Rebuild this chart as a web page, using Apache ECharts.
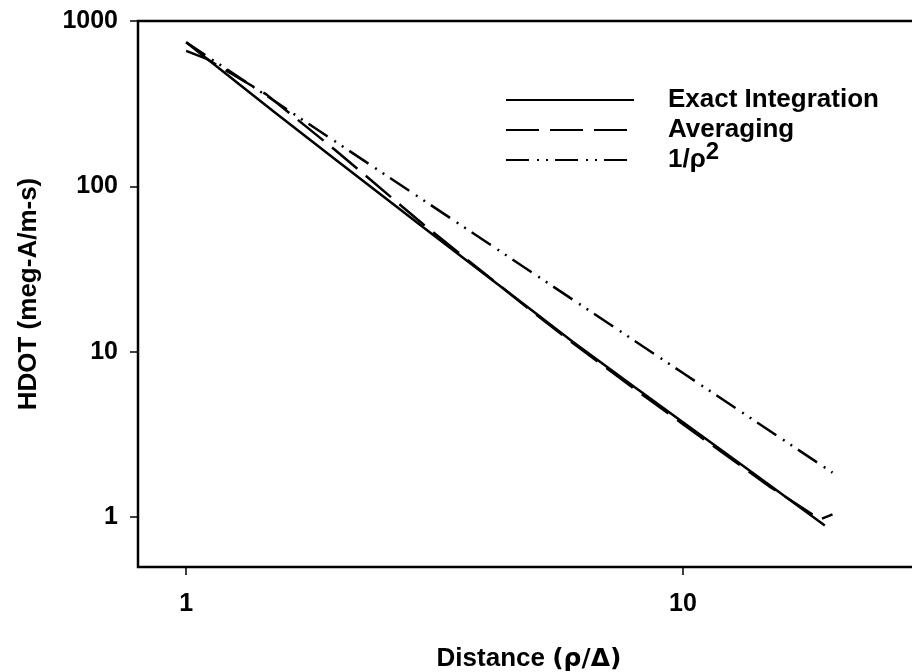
<!DOCTYPE html>
<html>
<head>
<meta charset="utf-8">
<script src="https://cdn.jsdelivr.net/npm/echarts@6/dist/echarts.min.js"></script>
<style>
  html, body { margin: 0; padding: 0; background: #fff; }
  #myChart { width: 912px; height: 672px; }
</style>
</head>
<body>
<div id="myChart"></div>
<script>
// values
const exactX = [1, 1.5, 2, 3, 4, 5, 6, 8, 10, 12, 15, 19.3];
const exactY = [745, 284, 145, 56.7, 29.2, 17.5, 11.5, 6.1, 3.75, 2.52, 1.55, 0.89];
const avgX = [1, 1.1, 1.45, 2, 3, 4, 5, 6, 8, 10, 12, 15, 18.9, 20];
const avgY = [660, 590, 360, 165, 59, 29.5, 17.3, 11.3, 5.95, 3.65, 2.46, 1.52, 0.97, 1.04];
const rhoX = [1, 2, 5, 10, 20];
const rhoY = [744, 186, 29.8, 7.44, 1.86];
const xTicks = [1, 10];
const yTicks = [1, 10, 100, 1000];
const seriesNames = ['Exact Integration', 'Averaging', '1/ρ2'];

function pairs(xs, ys) {
  return xs.map(function (x, i) { return [x, ys[i]]; });
}

const font = 'Liberation Sans, Arial, sans-serif';

let myChart = echarts.init(document.getElementById('myChart'));
myChart.setOption({
  backgroundColor: '#fff',
  animation: false,
  grid: {
    left: 138,
    top: 21,
    right: -8,
    bottom: 105,
    containLabel: false,
    outerBoundsMode: 'none',
    show: true,
    borderColor: '#000',
    borderWidth: 2.5
  },
  legend: {
    orient: 'vertical',
    left: 505,
    top: 80,
    padding: 0,
    itemWidth: 128,
    itemHeight: 14,
    itemGap: -10,
    data: seriesNames,
    itemStyle: { opacity: 0 },
    // same raised token in every item so the rows stay evenly spaced
    formatter: function (name) {
      return name === '1/ρ2' ? '1/ρ{sup|2}' : name + '{sup| }';
    },
    textStyle: {
      color: '#000',
      fontFamily: font,
      fontWeight: 'bold',
      fontSize: 26,
      lineHeight: 30,
      padding: [0, 0, 0, 29],
      rich: {
        sup: {
          fontFamily: font,
          fontWeight: 'bold',
          fontSize: 24,
          lineHeight: 30,
          padding: [0, 0, 16, 0]
        }
      }
    }
  },
  xAxis: {
    type: 'log',
    logBase: 10,
    min: 0.8,
    max: 30,
    name: 'Distance {g|(ρ/Δ)}',
    nameLocation: 'middle',
    nameGap: 79,
    nameTextStyle: {
      color: '#000', fontFamily: font, fontWeight: 'bold', fontSize: 26,
      rich: {
        g: { fontFamily: 'DejaVu Sans', fontWeight: 'bold', fontSize: 25, color: '#000' }
      }
    },
    axisLine: { show: false },
    axisTick: { show: true, length: 8, customValues: xTicks, lineStyle: { color: '#000', width: 1.5 } },
    axisLabel: { customValues: xTicks, margin: 25, color: '#000', fontFamily: font, fontWeight: 'bold', fontSize: 25 },
    splitLine: { show: false },
    minorTick: { show: false }
  },
  yAxis: {
    type: 'log',
    logBase: 10,
    min: 0.5,
    max: 1000,
    name: 'HDOT (meg-A/m-s)',
    nameLocation: 'middle',
    nameGap: 96,
    nameTextStyle: { color: '#000', fontFamily: font, fontWeight: 'bold', fontSize: 26 },
    axisLine: { show: false },
    axisTick: { show: true, length: 8, customValues: yTicks, lineStyle: { color: '#000', width: 1.5 } },
    axisLabel: {
      customValues: yTicks,
      margin: 20,
      color: '#000',
      fontFamily: font,
      fontWeight: 'bold',
      fontSize: 25,
      formatter: function (v) { return String(v); }
    },
    splitLine: { show: false }
  },
  series: [
    {
      name: seriesNames[0],
      type: 'line',
      symbol: 'none',
      data: pairs(exactX, exactY),
      lineStyle: { color: '#000', width: 2.5, type: 'solid' },
      itemStyle: { color: '#000' }
    },
    {
      name: seriesNames[1],
      type: 'line',
      symbol: 'none',
      data: pairs(avgX, avgY),
      lineStyle: { color: '#000', width: 2.5, type: [33, 11] },
      itemStyle: { color: '#000' }
    },
    {
      name: seriesNames[2],
      type: 'line',
      symbol: 'none',
      data: pairs(rhoX, rhoY),
      lineStyle: { color: '#000', width: 2.5, type: [23, 8, 2, 7, 2, 7] },
      itemStyle: { color: '#000' }
    }
  ]
});
</script>
</body>
</html>
